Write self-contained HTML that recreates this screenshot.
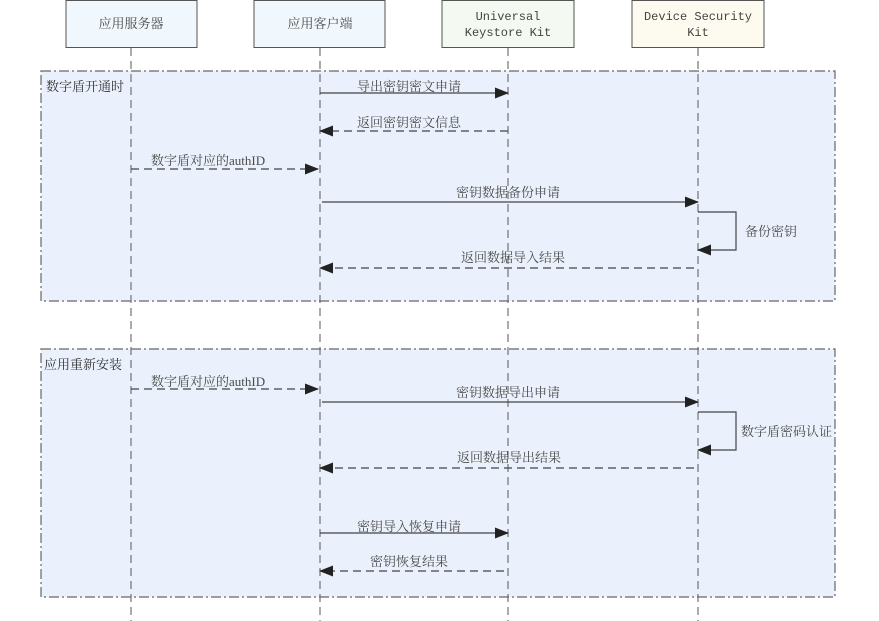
<!DOCTYPE html>
<html><head><meta charset="utf-8"><style>
html,body{margin:0;padding:0;background:#fff;}
svg{display:block;}
text{font-family:"Liberation Serif","Noto Serif CJK SC",serif;font-size:13px;fill:#4a4a4a;}
.m{font-family:"Liberation Mono","Noto Serif CJK SC",monospace;font-size:12px;fill:#444;}
.f{fill:#333;}
</style></head><body>
<svg width="879" height="621" viewBox="0 0 879 621" xmlns="http://www.w3.org/2000/svg">
<defs>
<marker id="a" markerWidth="14" markerHeight="11" refX="13" refY="5.5" orient="auto" markerUnits="userSpaceOnUse">
<path d="M0,0 L14,5.5 L0,11 z" fill="#222"/></marker>
</defs>
<rect x="41" y="71" width="794" height="230" fill="#ebf1fc" stroke="#666" stroke-width="1.2" stroke-dasharray="10,3,2,3"/>
<rect x="41" y="349" width="794" height="248" fill="#ebf1fc" stroke="#666" stroke-width="1.2" stroke-dasharray="10,3,2,3"/>
<g stroke="#666" stroke-dasharray="8,5" stroke-width="1.1">
<line x1="131" y1="48" x2="131" y2="621"/>
<line x1="320" y1="48" x2="320" y2="621"/>
<line x1="508" y1="48" x2="508" y2="621"/>
<line x1="698" y1="48" x2="698" y2="621"/>
</g>
<rect x="66" y="0.5" width="131" height="47" fill="#f0f7fd" stroke="#555"/>
<rect x="254" y="0.5" width="131" height="47" fill="#f0f7fd" stroke="#555"/>
<rect x="442" y="0.5" width="132" height="47" fill="#f4f9f1" stroke="#555"/>
<rect x="632" y="0.5" width="132" height="47" fill="#fdfbef" stroke="#555"/>
<text x="131" y="28" text-anchor="middle">应用服务器</text>
<text x="320" y="28" text-anchor="middle">应用客户端</text>
<text class="m" x="508" y="20" text-anchor="middle">Universal</text>
<text class="m" x="508" y="36" text-anchor="middle">Keystore Kit</text>
<text class="m" x="698" y="20" text-anchor="middle">Device Security</text>
<text class="m" x="698" y="36" text-anchor="middle">Kit</text>
<text class="f" x="46" y="91">数字盾开通时</text>
<text class="f" x="44" y="369">应用重新安装</text>
<g stroke="#444" fill="none" stroke-width="1.2">
<line x1="320" y1="93" x2="508" y2="93" marker-end="url(#a)"/>
<line x1="508" y1="131" x2="320" y2="131" stroke-dasharray="8,5" marker-end="url(#a)"/>
<line x1="131" y1="169" x2="318" y2="169" stroke-dasharray="8,5" marker-end="url(#a)"/>
<line x1="322" y1="202" x2="698" y2="202" marker-end="url(#a)"/>
<polyline points="698,212 736,212 736,250 698,250" marker-end="url(#a)"/>
<line x1="694" y1="268" x2="320" y2="268" stroke-dasharray="8,5" marker-end="url(#a)"/>
<line x1="131" y1="389" x2="318" y2="389" stroke-dasharray="8,5" marker-end="url(#a)"/>
<line x1="322" y1="402" x2="698" y2="402" marker-end="url(#a)"/>
<polyline points="698,412 736,412 736,450 698,450" marker-end="url(#a)"/>
<line x1="694" y1="468" x2="320" y2="468" stroke-dasharray="8,5" marker-end="url(#a)"/>
<line x1="320" y1="533" x2="508" y2="533" marker-end="url(#a)"/>
<line x1="504" y1="571" x2="320" y2="571" stroke-dasharray="8,5" marker-end="url(#a)"/>
</g>
<text x="409" y="91" text-anchor="middle">导出密钥密文申请</text>
<text x="409" y="127" text-anchor="middle">返回密钥密文信息</text>
<text x="151" y="165">数字盾对应的authID</text>
<text x="508" y="197" text-anchor="middle">密钥数据备份申请</text>
<text x="745" y="236">备份密钥</text>
<text x="513" y="262" text-anchor="middle">返回数据导入结果</text>
<text x="151" y="386">数字盾对应的authID</text>
<text x="508" y="397" text-anchor="middle">密钥数据导出申请</text>
<text x="741" y="436">数字盾密码认证</text>
<text x="509" y="462" text-anchor="middle">返回数据导出结果</text>
<text x="409" y="531" text-anchor="middle">密钥导入恢复申请</text>
<text x="409" y="566" text-anchor="middle">密钥恢复结果</text>
</svg>
</body></html>
